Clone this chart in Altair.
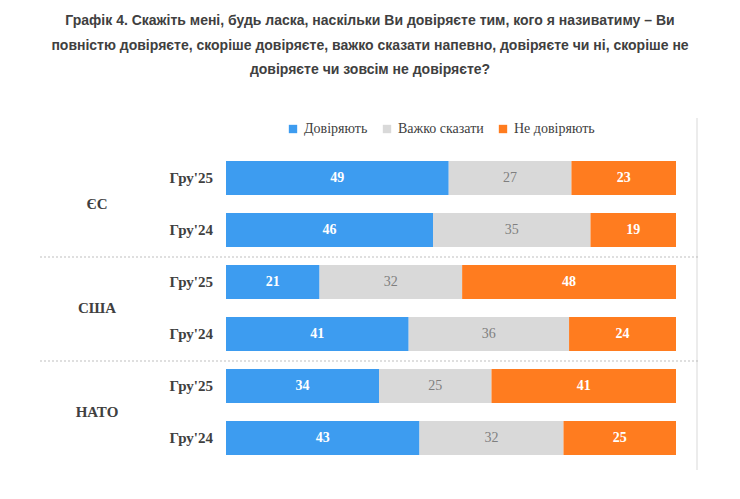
import altair as alt
import pandas as pd

groups = ["ЄС", "ЄС", "США", "США", "НАТО", "НАТО"]
waves = ["Гру'25", "Гру'24", "Гру'25", "Гру'24", "Гру'25", "Гру'24"]
trust = [49, 46, 21, 41, 34, 43]
hard = [27, 35, 32, 36, 25, 32]
distrust = [23, 19, 48, 24, 41, 25]
categories = ["Довіряють", "Важко сказати", "Не  довіряють"]
colors = ["#3d9cf0", "#d9d9d9", "#ff7c1f"]
title_lines = [
    "Графік 4. Скажіть мені, будь ласка, наскільки Ви довіряєте тим, кого я називатиму – Ви",
    "повністю довіряєте, скоріше довіряєте, важко сказати напевно, довіряєте чи ні, скоріше не",
    "довіряєте чи зовсім не довіряєте?",
]

rows = []
for i, (g, w) in enumerate(zip(groups, waves)):
    for j, (cat, v) in enumerate(zip(categories, [trust[i], hard[i], distrust[i]])):
        rows.append({"row": str(i), "group": g, "wave": w, "cat": cat, "order": j, "value": v})
df = pd.DataFrame(rows)
row_order = [str(i) for i in range(6)]

y_enc = alt.Y("row:N", sort=row_order, axis=None,
              scale=alt.Scale(paddingInner=0.346, paddingOuter=0.173))

base = alt.Chart(df).transform_stack(
    stack="value", groupby=["row"], as_=["x0", "x1"], offset="normalize",
    sort=[alt.SortField("order")]
).transform_calculate(mid="(datum.x0 + datum.x1) / 2")

bars = base.mark_bar().encode(
    x=alt.X("x0:Q", axis=None, scale=alt.Scale(domain=[0, 1])),
    x2="x1:Q",
    y=y_enc,
    color=alt.Color("cat:N", sort=categories,
                    scale=alt.Scale(domain=categories, range=colors),
                    legend=alt.Legend(title=None, orient="none", legendX=60, legendY=-30,
                                      direction="horizontal", symbolType="square",
                                      symbolSize=70, labelFont="Liberation Serif",
                                      labelFontSize=14, labelColor="#404040",
                                      columnPadding=12)),
)

# white bold numbers on coloured segments, grey on the middle one
labels_strong = base.transform_filter("datum.order != 1").mark_text(
    font="Liberation Serif", fontSize=14, fontWeight="bold", color="white"
).encode(x="mid:Q", y=y_enc, text="value:Q")
labels_mid = base.transform_filter("datum.order == 1").mark_text(
    font="Liberation Serif", fontSize=14, color="#7f7f7f"
).encode(x="mid:Q", y=y_enc, text="value:Q")

wave_df = df[df.order == 0]
wave_labels = alt.Chart(wave_df).mark_text(
    font="Liberation Serif", fontSize=15, fontWeight="bold", align="right", color="#404040"
).encode(x=alt.value(-13), y=y_enc, text="wave:N")

group_df = pd.DataFrame({"group": ["ЄС", "США", "НАТО"], "y": [52, 156, 260]})
group_labels = alt.Chart(group_df).mark_text(
    font="Liberation Serif", fontSize=15, fontWeight="bold", color="#404040"
).encode(x=alt.value(-129), y=alt.Y("y:Q", scale=None), text="group:N")

sep_df = pd.DataFrame({"y": [105, 209]})
seps = alt.Chart(sep_df).mark_rule(color="#bfbfbf", strokeDash=[2, 2]).encode(
    x=alt.value(-186), x2=alt.value(474), y=alt.Y("y:Q", scale=None))

border = alt.Chart(pd.DataFrame({"a": [0]})).mark_rule(color="#d9d9d9").encode(
    x=alt.value(471), y=alt.value(-34), y2=alt.value(318))

title_df = pd.DataFrame({"t": title_lines, "y": [-131, -106, -82]})
title = alt.Chart(title_df).mark_text(
    font="Liberation Sans", fontSize=14, fontWeight="bold", color="#404040"
).encode(x=alt.value(144), y=alt.Y("y:Q", scale=None), text="t:N")

chart = alt.layer(border, seps, bars, labels_strong, labels_mid, wave_labels,
                  group_labels, title).properties(
    width=450, height=312, autosize=alt.AutoSizeParams(type="none"),
    padding={"left": 218, "top": 144, "right": 56, "bottom": 20},
    background="white",
).configure_view(stroke=None)

chart.save("out.html", embed_options={"renderer": "svg", "actions": False})
